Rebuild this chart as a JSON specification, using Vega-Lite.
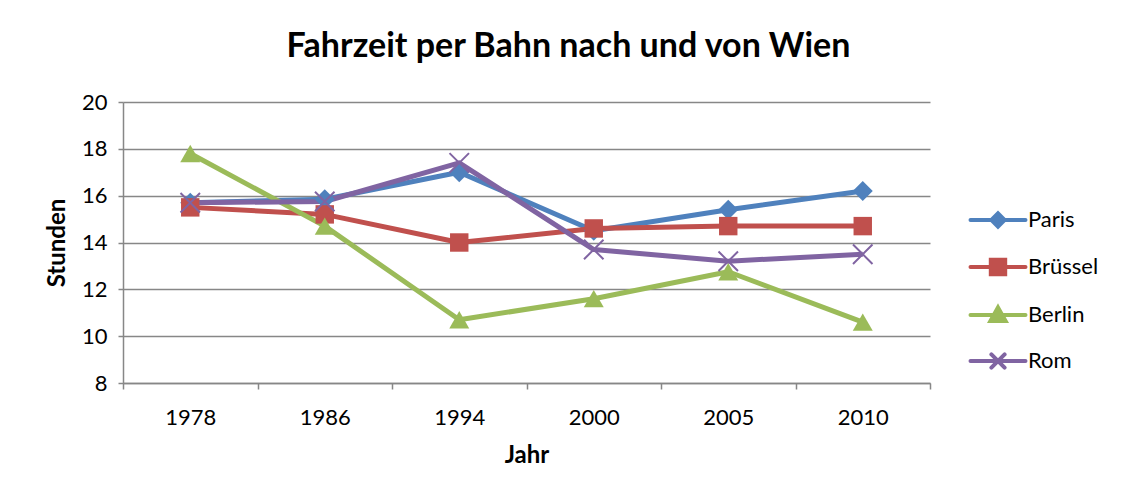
{
  "$schema": "https://vega.github.io/schema/vega-lite/v6.json",
  "width": 807,
  "height": 281,
  "autosize": {"type": "none"},
  "padding": {"left": 123, "top": 102, "right": 199, "bottom": 120},
  "background": "white",
  "title": {
    "text": "Fahrzeit per Bahn nach und von Wien",
    "font": "Lato",
    "fontSize": 34,
    "fontWeight": "bold",
    "color": "black",
    "anchor": "middle",
    "dx": 42,
    "dy": 36,
    "offset": 36,
    "baseline": "alphabetic"
  },
  "data": {
    "values": [
      {"Jahr": "1978", "Stadt": "Paris", "Stunden": 15.7},
      {"Jahr": "1986", "Stadt": "Paris", "Stunden": 15.85},
      {"Jahr": "1994", "Stadt": "Paris", "Stunden": 17.0},
      {"Jahr": "2000", "Stadt": "Paris", "Stunden": 14.5},
      {"Jahr": "2005", "Stadt": "Paris", "Stunden": 15.4},
      {"Jahr": "2010", "Stadt": "Paris", "Stunden": 16.2},
      {"Jahr": "1978", "Stadt": "Brüssel", "Stunden": 15.5},
      {"Jahr": "1986", "Stadt": "Brüssel", "Stunden": 15.2},
      {"Jahr": "1994", "Stadt": "Brüssel", "Stunden": 14.0},
      {"Jahr": "2000", "Stadt": "Brüssel", "Stunden": 14.6},
      {"Jahr": "2005", "Stadt": "Brüssel", "Stunden": 14.7},
      {"Jahr": "2010", "Stadt": "Brüssel", "Stunden": 14.7},
      {"Jahr": "1978", "Stadt": "Berlin", "Stunden": 17.8},
      {"Jahr": "1986", "Stadt": "Berlin", "Stunden": 14.7},
      {"Jahr": "1994", "Stadt": "Berlin", "Stunden": 10.7},
      {"Jahr": "2000", "Stadt": "Berlin", "Stunden": 11.6},
      {"Jahr": "2005", "Stadt": "Berlin", "Stunden": 12.75},
      {"Jahr": "2010", "Stadt": "Berlin", "Stunden": 10.6},
      {"Jahr": "1978", "Stadt": "Rom", "Stunden": 15.7},
      {"Jahr": "1986", "Stadt": "Rom", "Stunden": 15.75},
      {"Jahr": "1994", "Stadt": "Rom", "Stunden": 17.4},
      {"Jahr": "2000", "Stadt": "Rom", "Stunden": 13.7},
      {"Jahr": "2005", "Stadt": "Rom", "Stunden": 13.2},
      {"Jahr": "2010", "Stadt": "Rom", "Stunden": 13.5}
    ]
  },
  "encoding": {
    "x": {
      "field": "Jahr",
      "type": "ordinal",
      "scale": {"type": "band", "paddingInner": 0, "paddingOuter": 0},
      "axis": {
        "title": "Jahr",
        "labelAngle": 0,
        "tickBand": "extent",
        "tickSize": 6,
        "labelPadding": 18,
        "titlePadding": 15,
        "grid": false
      }
    },
    "y": {
      "field": "Stunden",
      "type": "quantitative",
      "scale": {"domain": [8, 20], "nice": false, "zero": false},
      "axis": {
        "title": "Stunden",
        "values": [8, 10, 12, 14, 16, 18, 20],
        "tickSize": 5,
        "labelPadding": 11,
        "titlePadding": 12,
        "grid": true
      }
    },
    "color": {
      "field": "Stadt",
      "type": "nominal",
      "scale": {
        "domain": ["Paris", "Brüssel", "Berlin", "Rom"],
        "range": ["#4F81BD", "#C0504D", "#9BBB59", "#8064A2"]
      },
      "legend": {
        "title": null,
        "orient": "none",
        "legendX": 853,
        "legendY": 96,
        "padding": 0,
        "symbolSize": 1600,
        "symbolStrokeWidth": 4,
        "rowPadding": 10,
        "labelOffset": 8,
        "labelFont": "Lato",
        "labelFontSize": 22,
        "labelColor": "black",
        "encode": {
          "symbols": {
            "update": {
              "shape": {"signal": "datum.value === 'Paris' ? 'M-1.375,0H1.375M-0.33,0L0,-0.33L0.33,0L0,0.33Z' : datum.value === 'Brüssel' ? 'M-1.375,0H1.375M-0.36,-0.36H0.36V0.36H-0.36Z' : datum.value === 'Berlin' ? 'M-1.375,0H1.375M0,-0.38L0.38,0.3H-0.38Z' : 'M-1.375,0H1.375M-0.33,-0.33L0.33,0.33M-0.33,0.33L0.33,-0.33'"},
              "fill": {"signal": "scale('color', datum.value)"},
              "stroke": {"signal": "scale('color', datum.value)"},
              "strokeWidth": {"value": 4},
              "strokeCap": {"value": "round"},
              "opacity": {"value": 1}
            }
          }
        }
      }
    }
  },
  "layer": [
    {
      "mark": {"type": "line", "strokeWidth": 5, "strokeJoin": "round"}
    },
    {
      "transform": [{"filter": "datum.Stadt === 'Paris'"}],
      "mark": {"type": "point", "shape": "diamond", "filled": true, "opacity": 1, "size": 400}
    },
    {
      "transform": [{"filter": "datum.Stadt === 'Brüssel'"}],
      "mark": {"type": "point", "shape": "square", "filled": true, "opacity": 1, "size": 340}
    },
    {
      "transform": [{"filter": "datum.Stadt === 'Berlin'"}],
      "mark": {"type": "point", "shape": "triangle-up", "filled": true, "opacity": 1, "size": 400}
    },
    {
      "transform": [{"filter": "datum.Stadt === 'Rom'"}],
      "mark": {"type": "point", "shape": "M-1,-1L1,1M-1,1L1,-1", "filled": false, "opacity": 1, "size": 380, "strokeWidth": 2}
    }
  ],
  "config": {
    "view": {"stroke": null},
    "font": "Lato",
    "axis": {
      "labelFont": "Lato",
      "labelFontSize": 22,
      "labelColor": "black",
      "titleFont": "Lato",
      "titleFontSize": 24,
      "titleFontWeight": "bold",
      "titleColor": "black",
      "domainColor": "#878787",
      "domainWidth": 1.5,
      "tickColor": "#878787",
      "tickWidth": 1.5,
      "gridColor": "#878787",
      "gridWidth": 1.5
    }
  }
}
